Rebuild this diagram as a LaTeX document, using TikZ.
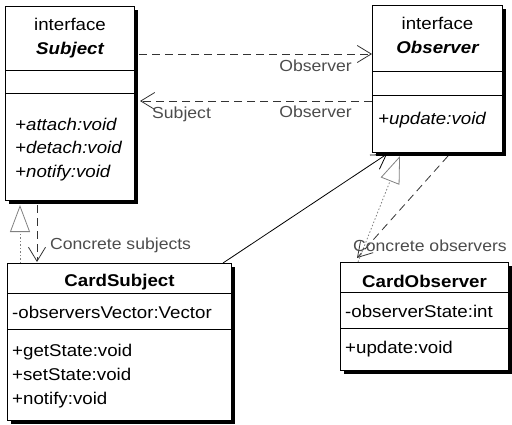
\documentclass[tikz,border=0pt]{standalone}
\usepackage{fontspec}
\setmainfont{Liberation Sans}[FakeStretch=1.1]
\usetikzlibrary{arrows.meta, positioning, calc, shadows}

\begin{document}
\begin{tikzpicture}[x=1pt, y=-1pt,
    classbox/.style={draw, line width=1pt, fill=white, anchor=north west, inner sep=0pt,
      drop shadow={shadow xshift=3pt, shadow yshift=-3pt, opacity=1, fill=black}},
    txt/.style={inner sep=0pt, anchor=base, font=\fontsize{17}{20}\selectfont},
    member/.style={txt, anchor=base west},
    role/.style={inner sep=0pt, text=black!70, font=\fontsize{16}{19}\selectfont},
    dep/.style={draw=black!80, line width=0.8pt, dash pattern=on 8pt off 5pt,
      -{Straight Barb[length=14pt, width=17pt]}},
    real/.style={draw=black!50, line width=0.8pt, dash pattern=on 1.5pt off 2pt,
      -{Triangle[open, length=27pt, width=20pt]}},
    assoc/.style={draw, line width=0.8pt, -{Straight Barb[length=14pt, width=17pt]}}]
  \useasboundingbox (0,0) rectangle (512,424);

  % interfaces
  \node[classbox, minimum width=129pt, minimum height=194pt] (subject) at (5,6) {};
  \node[classbox, minimum width=130pt, minimum height=147pt] (observer) at (372,5) {};
  % concrete classes
  \node[classbox, minimum width=224pt, minimum height=157pt] (cardsubject) at (7,263) {};
  \node[classbox, minimum width=168pt, minimum height=108pt] (cardobserver) at (340,262) {};

  % compartment lines
  \foreach \cls/\a/\b in {subject/64/87, observer/66/90, cardsubject/30/66, cardobserver/30/66} {
    \draw[line width=1pt] ($(\cls.north west)+(0,\a)$) -- ($(\cls.north east)+(0,\a)$);
    \draw[line width=1pt] ($(\cls.north west)+(0,\b)$) -- ($(\cls.north east)+(0,\b)$);
  }

  % Subject
  \node[txt] (subjstereo) at ($(subject.north)+(0,24)$) {interface};
  \node[txt] (subjname) at ($(subject.north)+(0,48)$) {\bfseries\itshape Subject};
  \foreach \op [count=\i from 0] in {attach, detach, notify}
    \node[member] (subjop\i) at ($(subject.north west)+(10,124+23.5*\i)$) {\itshape +\op:void};

  % Observer
  \node[txt] (obsstereo) at ($(observer.north)+(0,24)$) {interface};
  \node[txt] (obsname) at ($(observer.north)+(0,48)$) {\bfseries\itshape Observer};
  \node[member] (obsop) at ($(observer.north west)+(6,119)$) {\itshape +update:void};

  % CardSubject
  \node[txt] (csname) at ($(cardsubject.north)+(0,23)$) {\bfseries CardSubject};
  \node[member] (csattr) at ($(cardsubject.north west)+(5,55)$) {-observersVector:Vector};
  \foreach \op [count=\i from 0] in {getState, setState, notify}
    \node[member] (csop\i) at ($(cardsubject.north west)+(5,93+24*\i)$) {+\op:void};

  % CardObserver
  \node[txt] (coname) at ($(cardobserver.north)+(0,25)$) {\bfseries CardObserver};
  \node[member] (coattr) at ($(cardobserver.north west)+(5,55)$) {-observerState:int};
  \node[member] (coop) at ($(cardobserver.north west)+(5,91)$) {+update:void};

  % dependencies between the interfaces
  \draw[dep] ($(subject.north east)+(4,48)$) -- ($(observer.north west)+(0,49)$);
  \draw[dep] ($(observer.north west)+(0,96)$) -- ($(subject.north east)+(5,95)$);
  \node[role, anchor=base east] (lblobs1) at (352,71) {Observer};
  \node[role, anchor=base west] (lblsubj) at (152,118) {Subject};
  \node[role, anchor=base east] (lblobs2) at (352,117) {Observer};

  % concrete subject side
  \draw[real] ($(cardsubject.north west)+(13,0)$) -- ($(subject.south west)+(15,4)$);
  \draw[dep] ($(subject.south west)+(32,4)$) -- ($(cardsubject.north west)+(30,-1)$);
  \node[role, anchor=base west] (lblcs) at (50,249) {Concrete subjects};
  \draw[assoc] ($(cardsubject.north east)+(-9,0)$) -- ($(observer.south west)+(15,1)$);

  % concrete observer side
  \draw[real] ($(cardobserver.north west)+(18,0)$) -- ($(observer.south west)+(28,3)$);
  \draw[dep] ($(observer.south west)+(76,3)$) -- ($(cardobserver.north west)+(17,-4)$);
  \node[role, anchor=base west] (lblco) at (353,251) {Concrete observers};
\end{tikzpicture}
\end{document}
